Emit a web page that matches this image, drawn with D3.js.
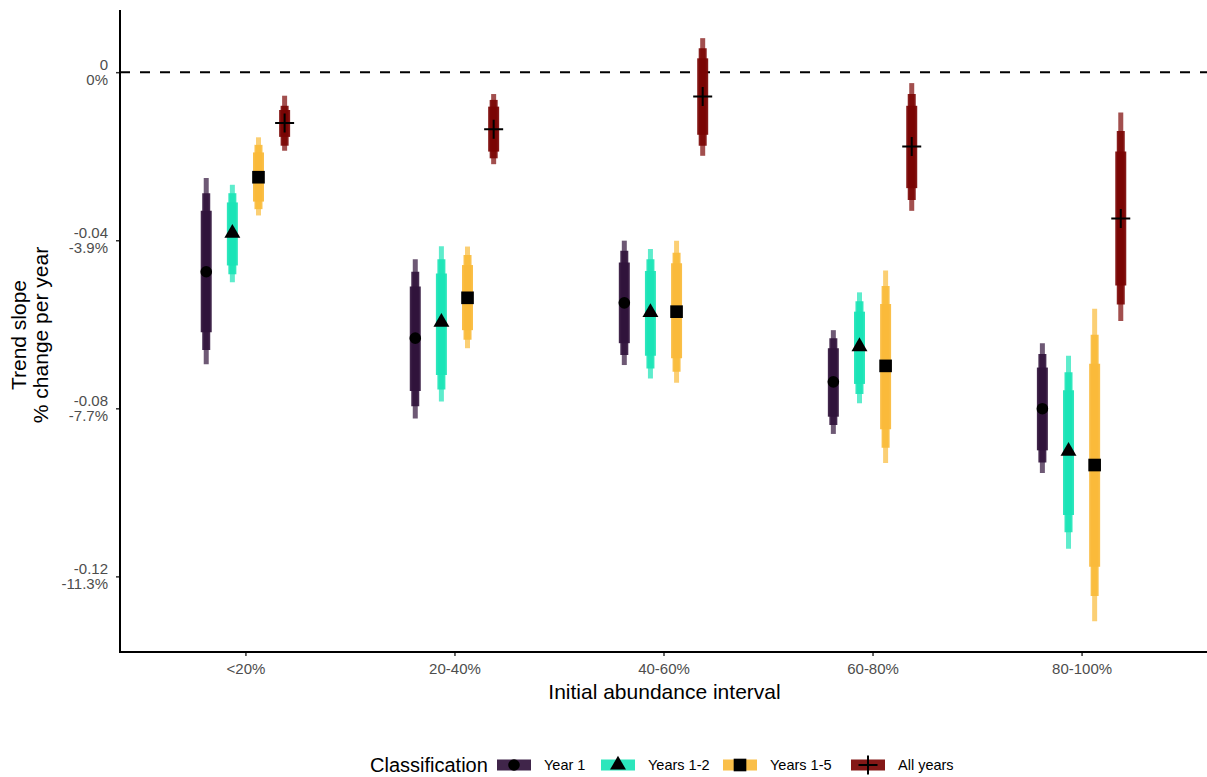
<!DOCTYPE html>
<html lang="en">
<head>
<meta charset="UTF-8">
<title>Trend slope by initial abundance interval</title>
<script src="https://d3js.org/d3.v7.min.js"></script>
<style>
  body { margin: 0; background: #fff; }
  svg text { font-family: "Liberation Sans", Arial, sans-serif; }
</style>
</head>
<body>
<svg width="1207" height="777"></svg>
<script>
// categories + series
var categories = ["<20%", "20-40%", "40-60%", "60-80%", "80-100%"];
var series = ["Year 1", "Years 1-2", "Years 1-5", "All years"];
var colors = ["#30123B", "#1AE4B6", "#FABA39", "#7A0403"];
var yTicks = [0, -0.04, -0.08, -0.12];
var yTickPct = ["0%", "-3.9%", "-7.7%", "-11.3%"];

// point estimates, one row per series (order = categories)
var est = [
  [-0.0475, -0.0633, -0.0549, -0.0737, -0.0801],
  [-0.0383, -0.0595, -0.0572, -0.0653, -0.0902],
  [-0.0250, -0.0537, -0.0570, -0.0699, -0.0935],
  [-0.0121, -0.0136, -0.0058, -0.0177, -0.0348]
];
// thick interval [upper, lower]
var thick = [
  [[-0.0330, -0.0619], [-0.0510, -0.0759], [-0.0453, -0.0645], [-0.0657, -0.0820], [-0.0703, -0.0900]],
  [[-0.0310, -0.0460], [-0.0479, -0.0721], [-0.0473, -0.0675], [-0.0570, -0.0742], [-0.0757, -0.1054]],
  [[-0.0191, -0.0308], [-0.0459, -0.0614], [-0.0455, -0.0681], [-0.0552, -0.0850], [-0.0694, -0.1177]],
  [[-0.0090, -0.0154], [-0.0082, -0.0189], [0.0033, -0.0149], [-0.0080, -0.0276], [-0.0189, -0.0508]]
];
// middle interval
var mid = [
  [[-0.0288, -0.0661], [-0.0475, -0.0795], [-0.0425, -0.0673], [-0.0633, -0.0840], [-0.0671, -0.0929]],
  [[-0.0288, -0.0481], [-0.0445, -0.0755], [-0.0445, -0.0705], [-0.0545, -0.0766], [-0.0714, -0.1095]],
  [[-0.0173, -0.0326], [-0.0435, -0.0637], [-0.0430, -0.0713], [-0.0509, -0.0894], [-0.0625, -0.1247]],
  [[-0.0080, -0.0175], [-0.0066, -0.0205], [0.0057, -0.0175], [-0.0052, -0.0304], [-0.0140, -0.0553]]
];
// outer interval
var outer = [
  [[-0.0252, -0.0695], [-0.0445, -0.0824], [-0.0401, -0.0697], [-0.0614, -0.0861], [-0.0645, -0.0954]],
  [[-0.0268, -0.0500], [-0.0414, -0.0784], [-0.0421, -0.0729], [-0.0524, -0.0788], [-0.0675, -0.1134]],
  [[-0.0155, -0.0341], [-0.0415, -0.0657], [-0.0401, -0.0739], [-0.0472, -0.0930], [-0.0563, -0.1307]],
  [[-0.0056, -0.0187], [-0.0052, -0.0219], [0.0081, -0.0199], [-0.0026, -0.0330], [-0.0096, -0.0592]]
];

var svg = d3.select("svg");
var pLeft = 120, pRight = 1207, pTop = 10, pBottom = 652;

var x = d3.scalePoint().domain(categories).range([pLeft, pRight]).padding(0.6);
var xIn = d3.scaleBand().domain(series)
  .range([-x.step() * 0.25, x.step() * 0.25]);
var y = d3.scaleLinear().domain([-0.138, 0.0148]).range([pBottom, pTop]);

function xPos(ci, si) {
  return x(categories[ci]) + xIn(series[si]) + xIn.bandwidth() / 2;
}

// zero reference line
svg.append("line")
  .attr("x1", pLeft).attr("x2", pRight)
  .attr("y1", y(0)).attr("y2", y(0))
  .attr("stroke", "#000").attr("stroke-width", 2)
  .attr("stroke-dasharray", "10,10");

// axes
var yAxis = svg.append("g")
  .attr("transform", "translate(" + pLeft + ",0)")
  .call(d3.axisLeft(y).tickValues(yTicks).tickSize(4).tickPadding(6).tickFormat(""));
yAxis.select(".domain").remove();
yAxis.selectAll(".tick line").attr("stroke", "#333").attr("stroke-width", 1.5);
yAxis.selectAll(".tick").each(function (d, i) {
  var t = d3.select(this).append("text")
    .attr("x", -12).attr("text-anchor", "end")
    .attr("fill", "#4d4d4d").attr("font-size", 15);
  t.append("tspan").attr("x", -12).attr("dy", -3).text(String(d));
  t.append("tspan").attr("x", -12).attr("dy", 15).text(yTickPct[i]);
});

var xAxis = svg.append("g")
  .attr("transform", "translate(0," + pBottom + ")")
  .call(d3.axisBottom(x).tickSize(4).tickPadding(6));
xAxis.attr("font-size", 15).attr("font-family", null);
xAxis.select(".domain").remove();
xAxis.selectAll(".tick line").attr("stroke", "#333").attr("stroke-width", 1.5);
xAxis.selectAll(".tick text").attr("fill", "#4d4d4d").attr("dy", "0.8em");

svg.append("line").attr("x1", pLeft).attr("x2", pLeft)
  .attr("y1", pTop).attr("y2", pBottom + 1)
  .attr("stroke", "#000").attr("stroke-width", 2);
svg.append("line").attr("x1", pLeft - 1).attr("x2", pRight)
  .attr("y1", pBottom).attr("y2", pBottom)
  .attr("stroke", "#000").attr("stroke-width", 2);

// axis titles
svg.append("text")
  .attr("x", (pLeft + pRight) / 2 + 1).attr("y", 699)
  .attr("text-anchor", "middle").attr("font-size", 21)
  .text("Initial abundance interval");
var yt = svg.append("text")
  .attr("transform", "translate(0," + ((pTop + pBottom) / 2 + 4) + ") rotate(-90)")
  .attr("text-anchor", "middle").attr("font-size", 21);
yt.append("tspan").attr("x", 0).attr("y", 26).text("Trend slope");
yt.append("tspan").attr("x", 0).attr("y", 48).text("% change per year");

// intervals
var levels = [
  { data: outer, w: 5, op: 0.7 },
  { data: mid, w: 8, op: 0.9 },
  { data: thick, w: 11, op: 0.92 }
];
var g = svg.append("g");
series.forEach(function (s, si) {
  levels.forEach(function (lv) {
    g.selectAll(null).data(lv.data[si]).enter().append("line")
      .attr("x1", function (d, ci) { return xPos(ci, si); })
      .attr("x2", function (d, ci) { return xPos(ci, si); })
      .attr("y1", function (d) { return y(d[0]); })
      .attr("y2", function (d) { return y(d[1]); })
      .attr("stroke", colors[si]).attr("stroke-opacity", lv.op)
      .attr("stroke-width", lv.w);
  });
});

// point shapes
function drawShape(sel, si) {
  if (si === 0) sel.append("path").attr("d", d3.symbol(d3.symbolCircle, 106)()).attr("fill", "#000");
  else if (si === 1) sel.append("path").attr("d", d3.symbol(d3.symbolTriangle, 110)()).attr("fill", "#000");
  else if (si === 2) sel.append("path").attr("d", d3.symbol(d3.symbolSquare, 160)()).attr("fill", "#000");
  else sel.append("path").attr("d", "M-9.5,0H9.5M0,-9.5V9.5")
    .attr("stroke", "#000").attr("stroke-width", 2).attr("fill", "none");
}
series.forEach(function (s, si) {
  est[si].forEach(function (v, ci) {
    var p = g.append("g").attr("transform", "translate(" + xPos(ci, si) + "," + y(v) + ")");
    drawShape(p, si);
  });
});

// legend
var lg = svg.append("g").attr("transform", "translate(0,765)");
lg.append("text").attr("x", 370).attr("y", 7).attr("font-size", 20).text("Classification");
var keyX = [497, 601, 723, 851];
series.forEach(function (s, si) {
  var k = lg.append("g").attr("transform", "translate(" + keyX[si] + ",0)");
  k.append("rect").attr("x", 0).attr("y", -5.5).attr("width", 34).attr("height", 11)
    .attr("fill", colors[si]).attr("fill-opacity", 0.92);
  var c = k.append("g").attr("transform", "translate(17,0)");
  drawShape(c, si);
  lg.append("text").attr("x", keyX[si] + 47).attr("y", 5)
    .attr("font-size", 14.5).attr("fill", "#000").text(s);
});
</script>
</body>
</html>
